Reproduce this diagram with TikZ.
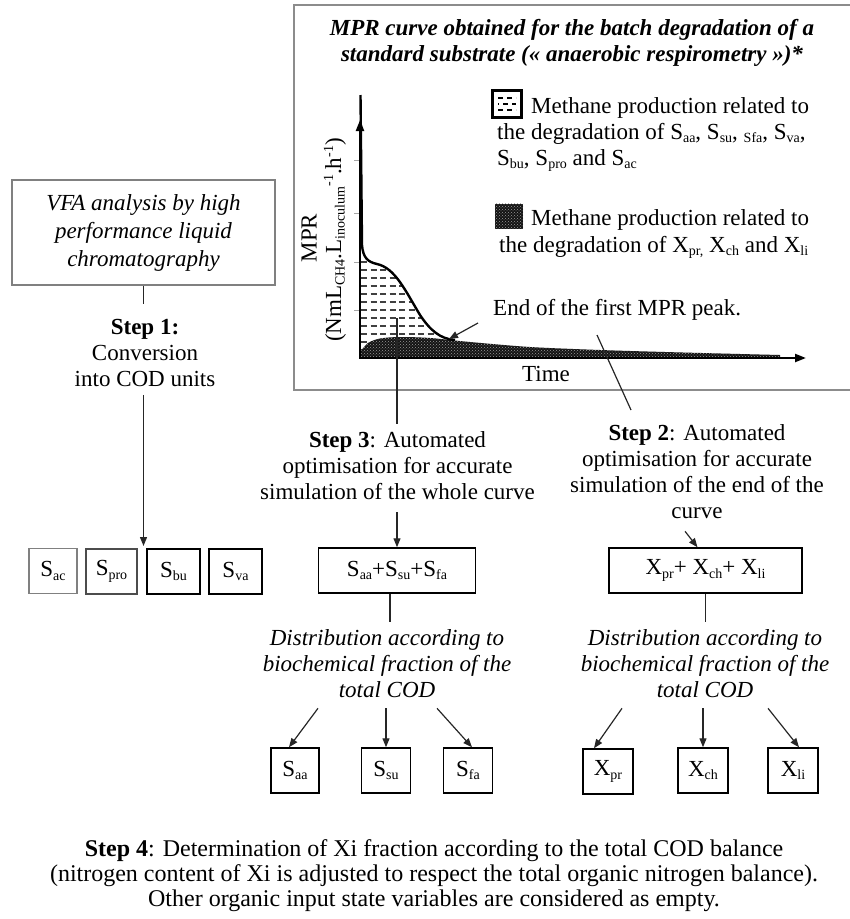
\documentclass[tikz,border=0pt]{standalone}
\usepackage{fontspec}
\setmainfont{Liberation Serif}
\usetikzlibrary{arrows.meta,patterns}

% small lowered / raised text used for chemical indices
\newcommand\sbs[1]{\raisebox{-3.5pt}{\fontsize{14}{14}\selectfont #1}}
\newcommand\sps[1]{\raisebox{8pt}{\fontsize{14}{14}\selectfont #1}}

\begin{document}
\begin{tikzpicture}[x=1pt,y=-1pt, font=\fontsize{23}{26}\selectfont,
  lbl/.style={inner sep=0pt, align=center},
  box/.style={draw=black, line width=1.5pt, inner sep=0pt, minimum height=45pt},
  gbox/.style={box, draw=black!50},
  conn/.style={line width=1.2pt, draw=black!85},
  arr/.style={conn, -{Triangle[length=9pt,width=7pt]}},
  plotaxis/.style={line width=2.2pt, -{Triangle[length=11pt,width=8pt]}},
  darkfill/.style={fill=black!92, postaction={pattern=crosshatch dots, pattern color=black!40}},
]
\useasboundingbox (0,0) rectangle (850,919);

% ---------- respirometry panel ----------
\draw[draw=black!45, line width=2pt] (294,5) rectangle (880,390);

\node[lbl, font=\fontsize{23}{26}\selectfont\bfseries\itshape, anchor=base] (title1) at (572,35)
  {MPR curve obtained for the batch degradation of a};
\node[lbl, font=\fontsize{23}{26}\selectfont\bfseries\itshape, anchor=base] (title2) at (572,61)
  {standard substrate (« anaerobic respirometry »)*};

% hatched area: soluble substrates
\begin{scope}
  \clip (361,357) -- (361,246) .. controls (363,258) and (368,262) .. (377,264)
        .. controls (395,268) and (405,290) .. (420,315)
        .. controls (430,330) and (440,339) .. (455,340) -- (455,357) -- cycle;
  \foreach \yy in {262,270,...,356}
    \draw[black!75, line width=1.1pt, dash pattern=on 6pt off 3.5pt] (361,\yy) -- (460,\yy);
\end{scope}

% dotted area: particulate substrates
\path[darkfill] (361,357) -- plot[smooth] coordinates {(361,351) (368,343) (380,338.5) (400,337)
  (430,338) (470,342) (530,347) (600,350) (665,352) (740,354) (780,355)} -- (780,357.5) -- cycle;

% MPR curve
\draw[line width=2.4pt, line join=round] (360.5,95) -- (362,245)
  .. controls (363,258) and (368,262) .. (377,264)
  .. controls (395,268) and (405,290) .. (420,315)
  .. controls (430,330) and (440,339) .. (455,340);

% axes and ticks
\foreach \yy in {160,213,262,310}
  \draw[black!35, line width=1pt] (354,\yy) -- (360,\yy);
\draw[plotaxis] (360,358) -- (360,120);
\draw[plotaxis] (359,358) -- (806,358);

\node[lbl, rotate=90] (ylab1) at (309,238) {MPR};
\node[lbl, rotate=90] (ylab2) at (335,240)
  {(NmL\sbs{CH4}.L\sbs{inoculum}\sps{-1}.h\sps{-1})};
\node[lbl, anchor=base] (time) at (546,381) {Time};

% legend
\node[draw, line width=2.8pt, fill=white, minimum width=29pt, minimum height=27pt, inner sep=0pt] (leg1) at (507,104) {};
\draw[line width=1.3pt, dash pattern=on 5pt off 4pt] ([xshift=-9pt,yshift=6pt]leg1.center) -- ++(18,0);
\draw[line width=1.3pt, dash pattern=on 5pt off 4pt, dash phase=4pt] ([xshift=-9pt]leg1.center) -- ++(18,0);
\draw[line width=1.3pt, dash pattern=on 5pt off 4pt] ([xshift=-9pt,yshift=-6pt]leg1.center) -- ++(18,0);
\node[lbl, anchor=base west] (leg1a) at (531,113) {Methane production related to};
\node[lbl, anchor=base west] (leg1b) at (497,139) {the degradation of S\sbs{aa}, S\sbs{su}, \sbs{Sfa}, S\sbs{va},};
\node[lbl, anchor=base west] (leg1c) at (497,165) {S\sbs{bu}, S\sbs{pro} and S\sbs{ac}};

\node[darkfill, minimum width=28pt, minimum height=25pt, inner sep=0pt] (leg2) at (509,216) {};
\node[lbl, anchor=base west] (leg2a) at (531,225) {Methane production related to};
\node[lbl, anchor=base west] (leg2b) at (499,252) {the degradation of X\sbs{pr,} X\sbs{ch} and X\sbs{li}};

\node[lbl, anchor=base west] (peak) at (493,315) {End of the first MPR peak.};
\coordinate (peaktail) at (478,323);
\coordinate (peakend) at (449,339);
\draw[arr] (peaktail) -- (peakend);

% ---------- step 1 ----------
\node[gbox, minimum width=263pt, minimum height=105pt, align=center,
      font=\fontsize{23}{28}\selectfont\itshape] (vfa) at (143.5,232.5)
  {VFA analysis by high\\performance liquid\\chromatography};
\node[lbl] (step1) at (145,353) {\textbf{Step 1:}\\Conversion\\into COD units};
\draw[conn] (vfa.south) -- ([yshift=15pt]vfa.south |- step1.north);
\draw[arr] ([yshift=-8pt]vfa.south |- step1.south) -- (143.5,546);

\node[gbox, minimum width=48pt] (sac) at (53,571) {S\sbs{ac}};
\node[box, draw=black!70, minimum width=51pt] (spro) at (111.5,571.5) {S\sbs{pro}};
\node[box, minimum width=53pt] (sbu) at (173.5,571.5) {S\sbs{bu}};
\node[box, minimum width=53pt] (sva) at (235.5,571.5) {S\sbs{va}};

% ---------- step 3 ----------
\coordinate (hatchpt) at (397,318);
\node[lbl] (step3) at (397.5,466)
  {\textbf{Step 3}: Automated\\optimisation for accurate\\simulation of the whole curve};
\draw[conn] (hatchpt) -- ([yshift=8pt]hatchpt |- step3.north);
\node[box, minimum width=157pt] (sumS) at (397,570.5) {S\sbs{aa}+S\sbs{su}+S\sbs{fa}};
\draw[arr] ([yshift=-12pt]sumS.north |- step3.south) -- (sumS.north);

\node[lbl, font=\fontsize{23}{26}\selectfont\itshape] (distS) at (387,664)
  {Distribution according to\\biochemical fraction of the\\total COD};
\draw[conn] ([xshift=-7pt]sumS.south) -- ([xshift=-7pt,yshift=8pt]sumS.south |- distS.north);

\node[box, minimum width=48pt] (saa) at (295,770.5) {S\sbs{aa}};
\node[box, minimum width=49pt] (ssu) at (386,770.5) {S\sbs{su}};
\node[box, minimum width=49pt] (sfa) at (468,770.5) {S\sbs{fa}};
\draw[arr] ([xshift=-69pt,yshift=-10pt]distS.south) -- ([xshift=-6pt]saa.north);
\draw[arr] ([xshift=-1pt,yshift=-10pt]distS.south) -- (ssu.north);
\draw[arr] ([xshift=50pt,yshift=-10pt]distS.south) -- ([xshift=4pt]sfa.north);

% ---------- step 2 ----------
\coordinate (tailpt) at (597,335);
\node[lbl] (step2) at (697,472)
  {\textbf{Step 2}: Automated\\optimisation for accurate\\simulation of the end of the\\curve};
\draw[conn] (tailpt) -- (631,410);
\node[box, minimum width=193pt] (sumX) at (705.5,570.5) {X\sbs{pr}+ X\sbs{ch}+ X\sbs{li}};
\draw[arr] ([xshift=-12pt,yshift=-12pt]step2.south) -- ([xshift=-8pt]sumX.north);

\node[lbl, font=\fontsize{23}{26}\selectfont\itshape] (distX) at (705,664)
  {Distribution according to\\biochemical fraction of the\\total COD};
\draw[conn] (sumX.south) -- ([yshift=8pt]sumX.south |- distX.north);

\node[box, minimum width=50pt] (xpr) at (608,771.5) {X\sbs{pr}};
\node[box, minimum width=50pt] (xch) at (703,770.5) {X\sbs{ch}};
\node[box, minimum width=50pt] (xli) at (793,770.5) {X\sbs{li}};
\draw[arr] ([xshift=-83pt,yshift=-10pt]distX.south) -- ([xshift=-14pt]xpr.north);
\draw[arr] ([xshift=-2pt,yshift=-10pt]distX.south) -- (xch.north);
\draw[arr] ([xshift=63pt,yshift=-10pt]distX.south) -- ([xshift=6pt]xli.north);

% ---------- step 4 ----------
\node[lbl, font=\fontsize{24}{25}\selectfont] (step4) at (434,876)
  {\textbf{Step 4}: Determination of Xi fraction according to the total COD balance\\
   (nitrogen content of Xi is adjusted to respect the total organic nitrogen balance).\\
   Other organic input state variables are considered as empty.};
\end{tikzpicture}
\end{document}
